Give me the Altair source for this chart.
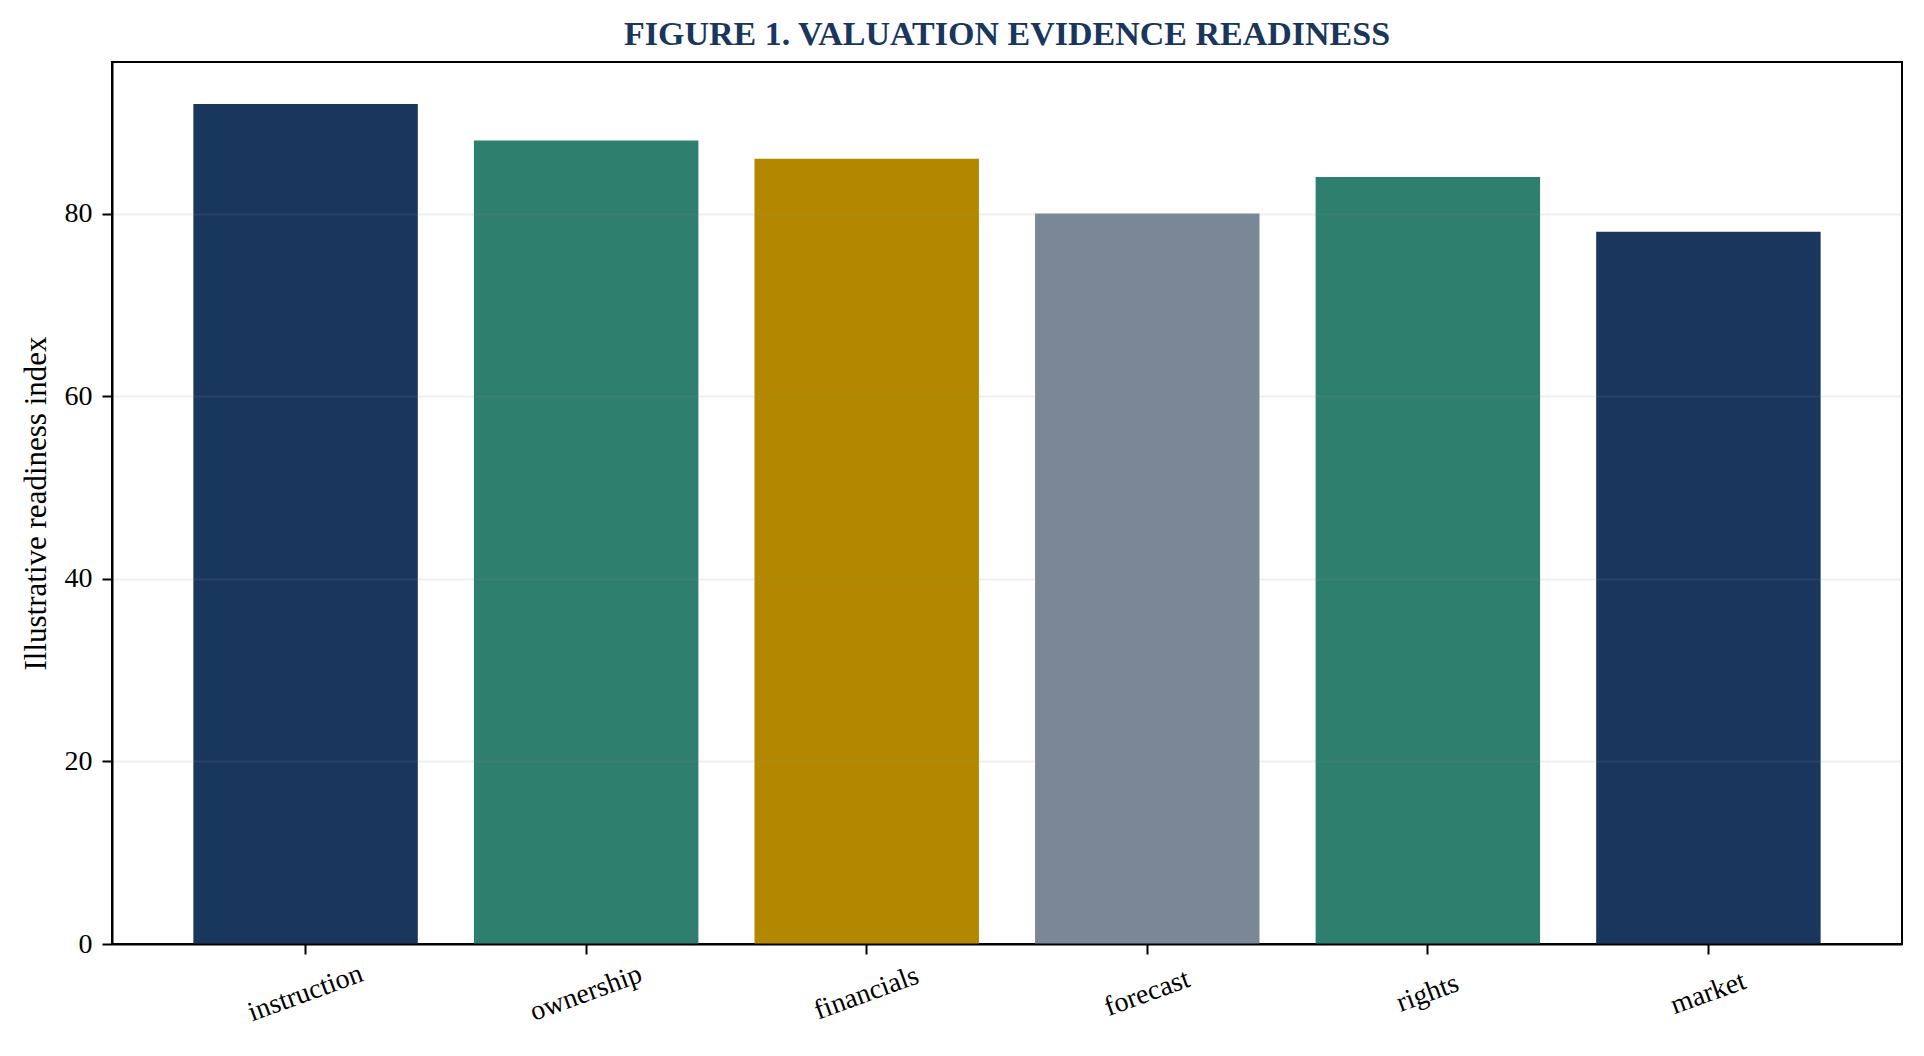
import altair as alt
import pandas as pd

categories = ["instruction", "ownership", "financials", "forecast", "rights", "market"]
values = [92, 88, 86, 80, 84, 78]
bar_colors = ["#19365d", "#2f7f6f", "#b38800", "#7a8797", "#2f7f6f", "#19365d"]

df = pd.DataFrame({"category": categories, "value": values, "color": bar_colors})

FONT = "Liberation Serif"

chart = alt.Chart(df).mark_bar().encode(
    x=alt.X(
        "category:N",
        sort=categories,
        scale=alt.Scale(paddingInner=0.2, paddingOuter=0.29),
        axis=alt.Axis(
            title=None,
            labelAngle=340,
            labelAlign="center",
            labelBaseline="middle",
            labelPadding=39,
            labelFontSize=28,
            labelFont=FONT,
            labelColor="#000000",
            tickSize=10,
            tickWidth=2,
            tickColor="#000000",
            domainColor="#000000",
            domainWidth=2,
            grid=False,
            zindex=1,
        ),
    ),
    y=alt.Y(
        "value:Q",
        scale=alt.Scale(domain=[0, 96.6], nice=False, zero=True),
        axis=alt.Axis(
            title="Illustrative readiness index",
            titleFont=FONT,
            titleFontSize=31,
            titleFontWeight="normal",
            titleColor="#000000",
            titlePadding=12,
            values=[0, 20, 40, 60, 80],
            labelFontSize=28,
            labelFont=FONT,
            labelColor="#000000",
            labelPadding=10,
            tickSize=10,
            tickWidth=2,
            tickColor="#000000",
            domainColor="#000000",
            domainWidth=2,
            grid=True,
            gridColor="#8b8b8b",
            gridOpacity=0.14,
            gridWidth=2,
            zindex=1,
        ),
    ),
    color=alt.Color("color:N", scale=None, legend=None),
).properties(
    width=1790,
    height=882,
    title=alt.TitleParams(
        text="FIGURE 1. VALUATION EVIDENCE READINESS",
        font=FONT,
        fontSize=34,
        fontWeight="bold",
        color="#19365d",
        anchor="middle",
        offset=10,
    ),
    autosize=alt.AutoSizeParams(type="none"),
    padding={"left": 104, "top": 54, "right": 10, "bottom": 96},
).configure(
    background="#ffffff",
).configure_view(
    stroke="#000000",
    strokeWidth=2,
)

chart.save("out.html", embed_options={"renderer": "svg", "actions": False})
